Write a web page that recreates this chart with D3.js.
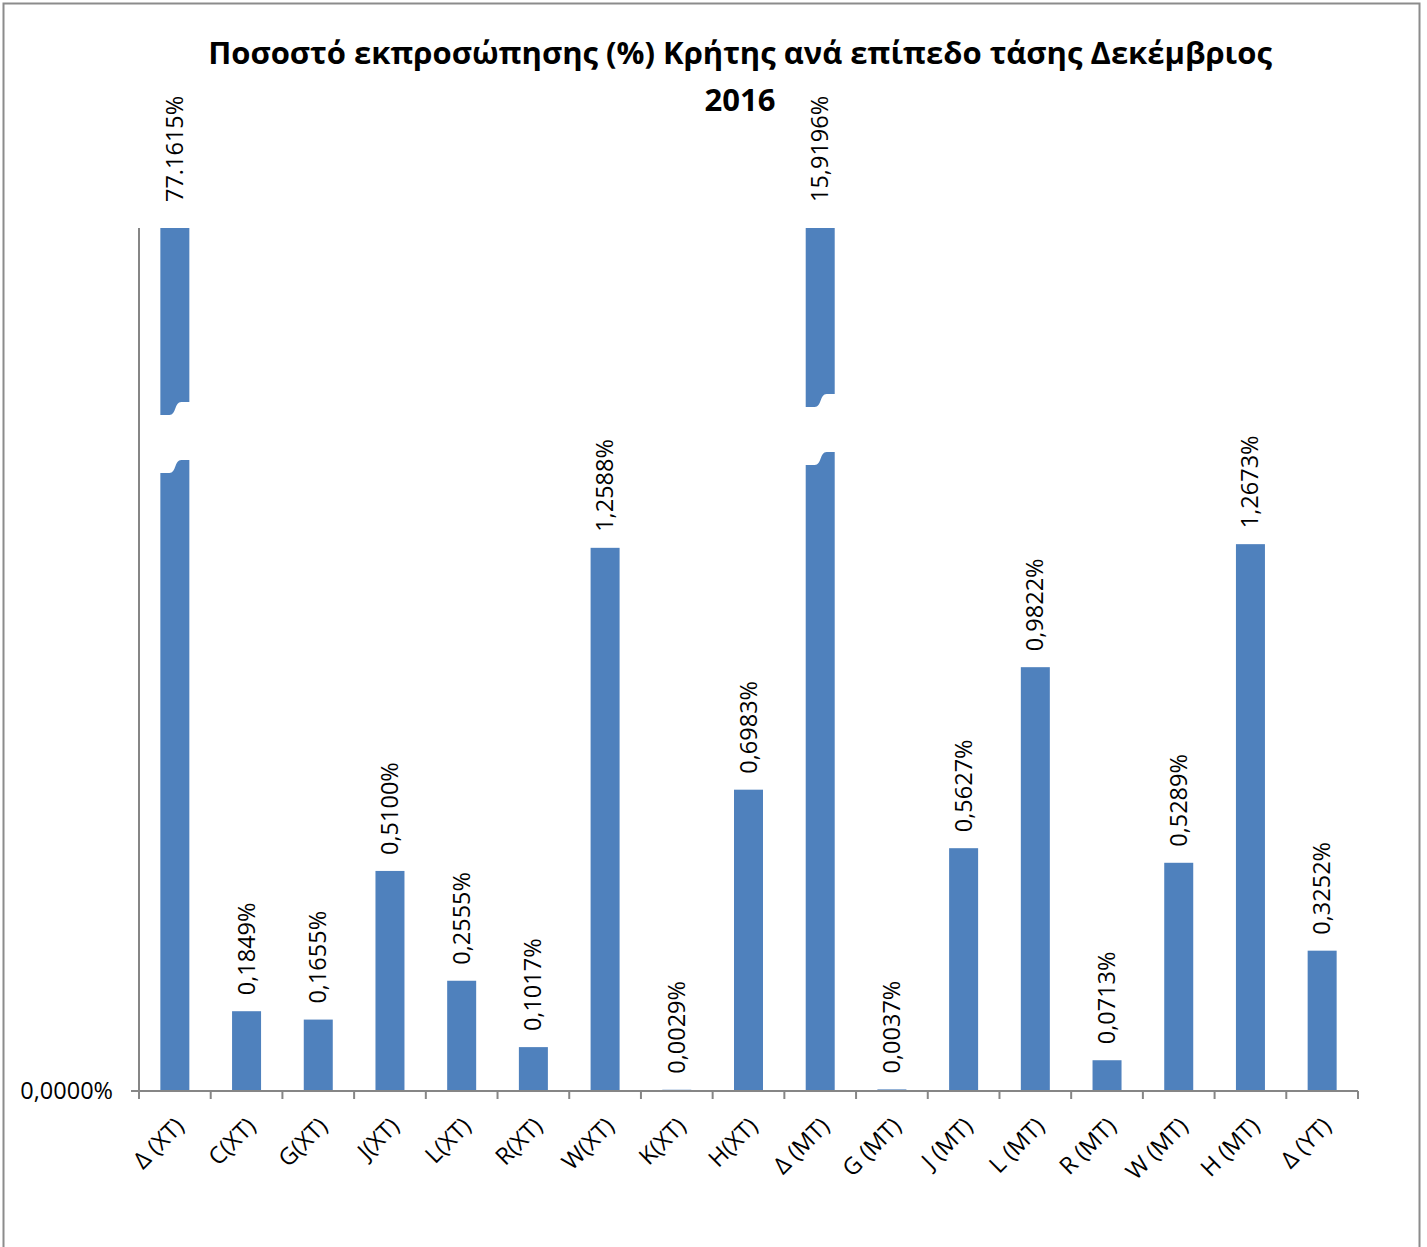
<!DOCTYPE html>
<html lang="el">

<head>
  <meta charset="utf-8">
  <title>Ποσοστό εκπροσώπησης Κρήτης</title>
  <script src="https://d3js.org/d3.v7.min.js" charset="utf-8"></script>
  <style type="text/css">
    body {
      margin: 0;
      background: #fff;
    }

    text {
      font-family: "Open Sans", "Noto Sans", sans-serif;
      fill: #000;
    }

    .bar {
      fill: #4F81BD;
    }
  </style>
</head>

<body>

  <svg id="chart" class="chart"></svg>

  <script type="text/javascript">
    // data
    const categories = ["Δ (XT)", "C(XT)", "G(XT)", "J(XT)", "L(XT)", "R(XT)", "W(XT)", "K(XT)", "H(XT)",
      "Δ (MT)", "G (MT)", "J (MT)", "L  (MT)", "R (MT)", "W (MT)", "H (MT)", "Δ (YT)"];
    const values = [77.1615, 0.1849, 0.1655, 0.5100, 0.2555, 0.1017, 1.2588, 0.0029, 0.6983,
      15.9196, 0.0037, 0.5627, 0.9822, 0.0713, 0.5289, 1.2673, 0.3252];
    const valueLabels = ["77.1615%", "0,1849%", "0,1655%", "0,5100%", "0,2555%", "0,1017%", "1,2588%", "0,0029%", "0,6983%",
      "15,9196%", "0,0037%", "0,5627%", "0,9822%", "0,0713%", "0,5289%", "1,2673%", "0,3252%"];
    const yTicks = [0];
    const yTickLabels = ["0,0000%"];
    const yMax = 2;
    const titleLines = ["Ποσοστό εκπροσώπησης (%) Κρήτης ανά επίπεδο τάσης Δεκέμβριος", "2016"];

    const W = 1427;
    const H = 1247;
    const plot = { left: 139, right: 1358, top: 228, bottom: 1091 };

    const data = categories.map((c, i) => ({ cat: c, value: values[i], label: valueLabels[i] }));

    const svg = d3.select("#chart")
      .attr("width", W)
      .attr("height", H);

    // chart border
    svg.append("rect")
      .attr("x", 3.5)
      .attr("y", 3.5)
      .attr("width", 1416)
      .attr("height", 1260)
      .attr("fill", "#fff")
      .attr("stroke", "#8c8c8c")
      .attr("stroke-width", 2);

    const xScale = d3.scaleBand()
      .domain(categories)
      .range([plot.left, plot.right])
      .paddingInner(0)
      .paddingOuter(0);

    const yScale = d3.scaleLinear()
      .domain([0, yMax])
      .range([plot.bottom, plot.top])
      .clamp(true);

    const barW = 29;
    const bx = (d) => xScale(d.cat) + xScale.bandwidth() / 2 - barW / 2;

    // bars
    svg.append("g")
      .selectAll("rect")
      .data(data)
      .join("rect")
      .attr("class", "bar")
      .attr("x", bx)
      .attr("y", (d) => yScale(d.value))
      .attr("width", barW)
      .attr("height", (d) => plot.bottom - yScale(d.value));

    // axis break on bars that are off the scale
    const broken = data.filter((d) => d.value > yMax);
    const breakAt = { "Δ (XT)": 415, "Δ (MT)": 407 };
    svg.append("g")
      .selectAll("path")
      .data(broken)
      .join("path")
      .attr("fill", "#fff")
      .attr("d", (d) => {
        const x0 = bx(d) - 2, x1 = bx(d) + barW + 2;
        const y = breakAt[d.cat];
        const rise = 13, gap = 58;
        const a = bx(d) + 9, b = bx(d) + 21, k = 7;
        return `M${x0},${y} L${a},${y} C${a + k},${y} ${b - k},${y - rise} ${b},${y - rise} L${x1},${y - rise} ` +
          `L${x1},${y - rise + gap} L${b},${y - rise + gap} C${b - k},${y - rise + gap} ${a + k},${y + gap} ${a},${y + gap} ` +
          `L${x0},${y + gap} Z`;
      });

    // value labels
    svg.append("g")
      .selectAll("text")
      .data(data)
      .join("text")
      .attr("transform", (d) => {
        const cx = xScale(d.cat) + xScale.bandwidth() / 2;
        const top = d.value > yMax ? yScale(d.value) - 26 : yScale(d.value) - 16;
        return `translate(${cx + 8},${top}) rotate(-90)`;
      })
      .attr("text-anchor", "start")
      .style("font-size", "23.5px")
      .text((d) => d.label);

    // x axis
    const xAxis = svg.append("g")
      .attr("transform", `translate(0,${plot.bottom})`);
    xAxis.append("line")
      .attr("x1", plot.left)
      .attr("x2", plot.right)
      .attr("stroke", "#868686")
      .attr("stroke-width", 2);
    const edges = categories.map((c) => xScale(c)).concat([plot.right]);
    xAxis.selectAll(".tick")
      .data(edges)
      .join("line")
      .attr("class", "tick")
      .attr("x1", (d) => d)
      .attr("x2", (d) => d)
      .attr("y1", 0)
      .attr("y2", 8)
      .attr("stroke", "#868686")
      .attr("stroke-width", 2);
    xAxis.selectAll(".cat")
      .data(categories)
      .join("text")
      .attr("class", "cat")
      .attr("transform", (d) => `translate(${xScale(d) + xScale.bandwidth() / 2 - 1},${25}) rotate(-45)`)
      .attr("text-anchor", "end")
      .attr("dy", "0.7em")
      .style("font-size", "23.5px")
      .text((d) => d);

    // y axis
    const yAxis = svg.append("g")
      .attr("transform", `translate(${plot.left},0)`);
    yAxis.append("line")
      .attr("y1", plot.top)
      .attr("y2", plot.bottom)
      .attr("stroke", "#868686")
      .attr("stroke-width", 2);
    yAxis.selectAll(".tick")
      .data(yTicks)
      .join("line")
      .attr("class", "tick")
      .attr("x1", -8)
      .attr("x2", 0)
      .attr("y1", (d) => yScale(d))
      .attr("y2", (d) => yScale(d))
      .attr("stroke", "#868686")
      .attr("stroke-width", 2);
    yAxis.selectAll(".ylab")
      .data(yTicks)
      .join("text")
      .attr("class", "ylab")
      .attr("x", -26)
      .attr("y", (d) => yScale(d))
      .attr("dy", "0.35em")
      .attr("text-anchor", "end")
      .style("font-size", "23.5px")
      .text((d, i) => yTickLabels[i]);

    // title
    svg.append("g")
      .selectAll("text")
      .data(titleLines)
      .join("text")
      .attr("x", 740)
      .attr("y", (d, i) => 64 + i * 47)
      .attr("text-anchor", "middle")
      .style("font-size", "31px")
      .style("font-weight", "bold")
      .text((d) => d);
  </script>
</body>

</html>
